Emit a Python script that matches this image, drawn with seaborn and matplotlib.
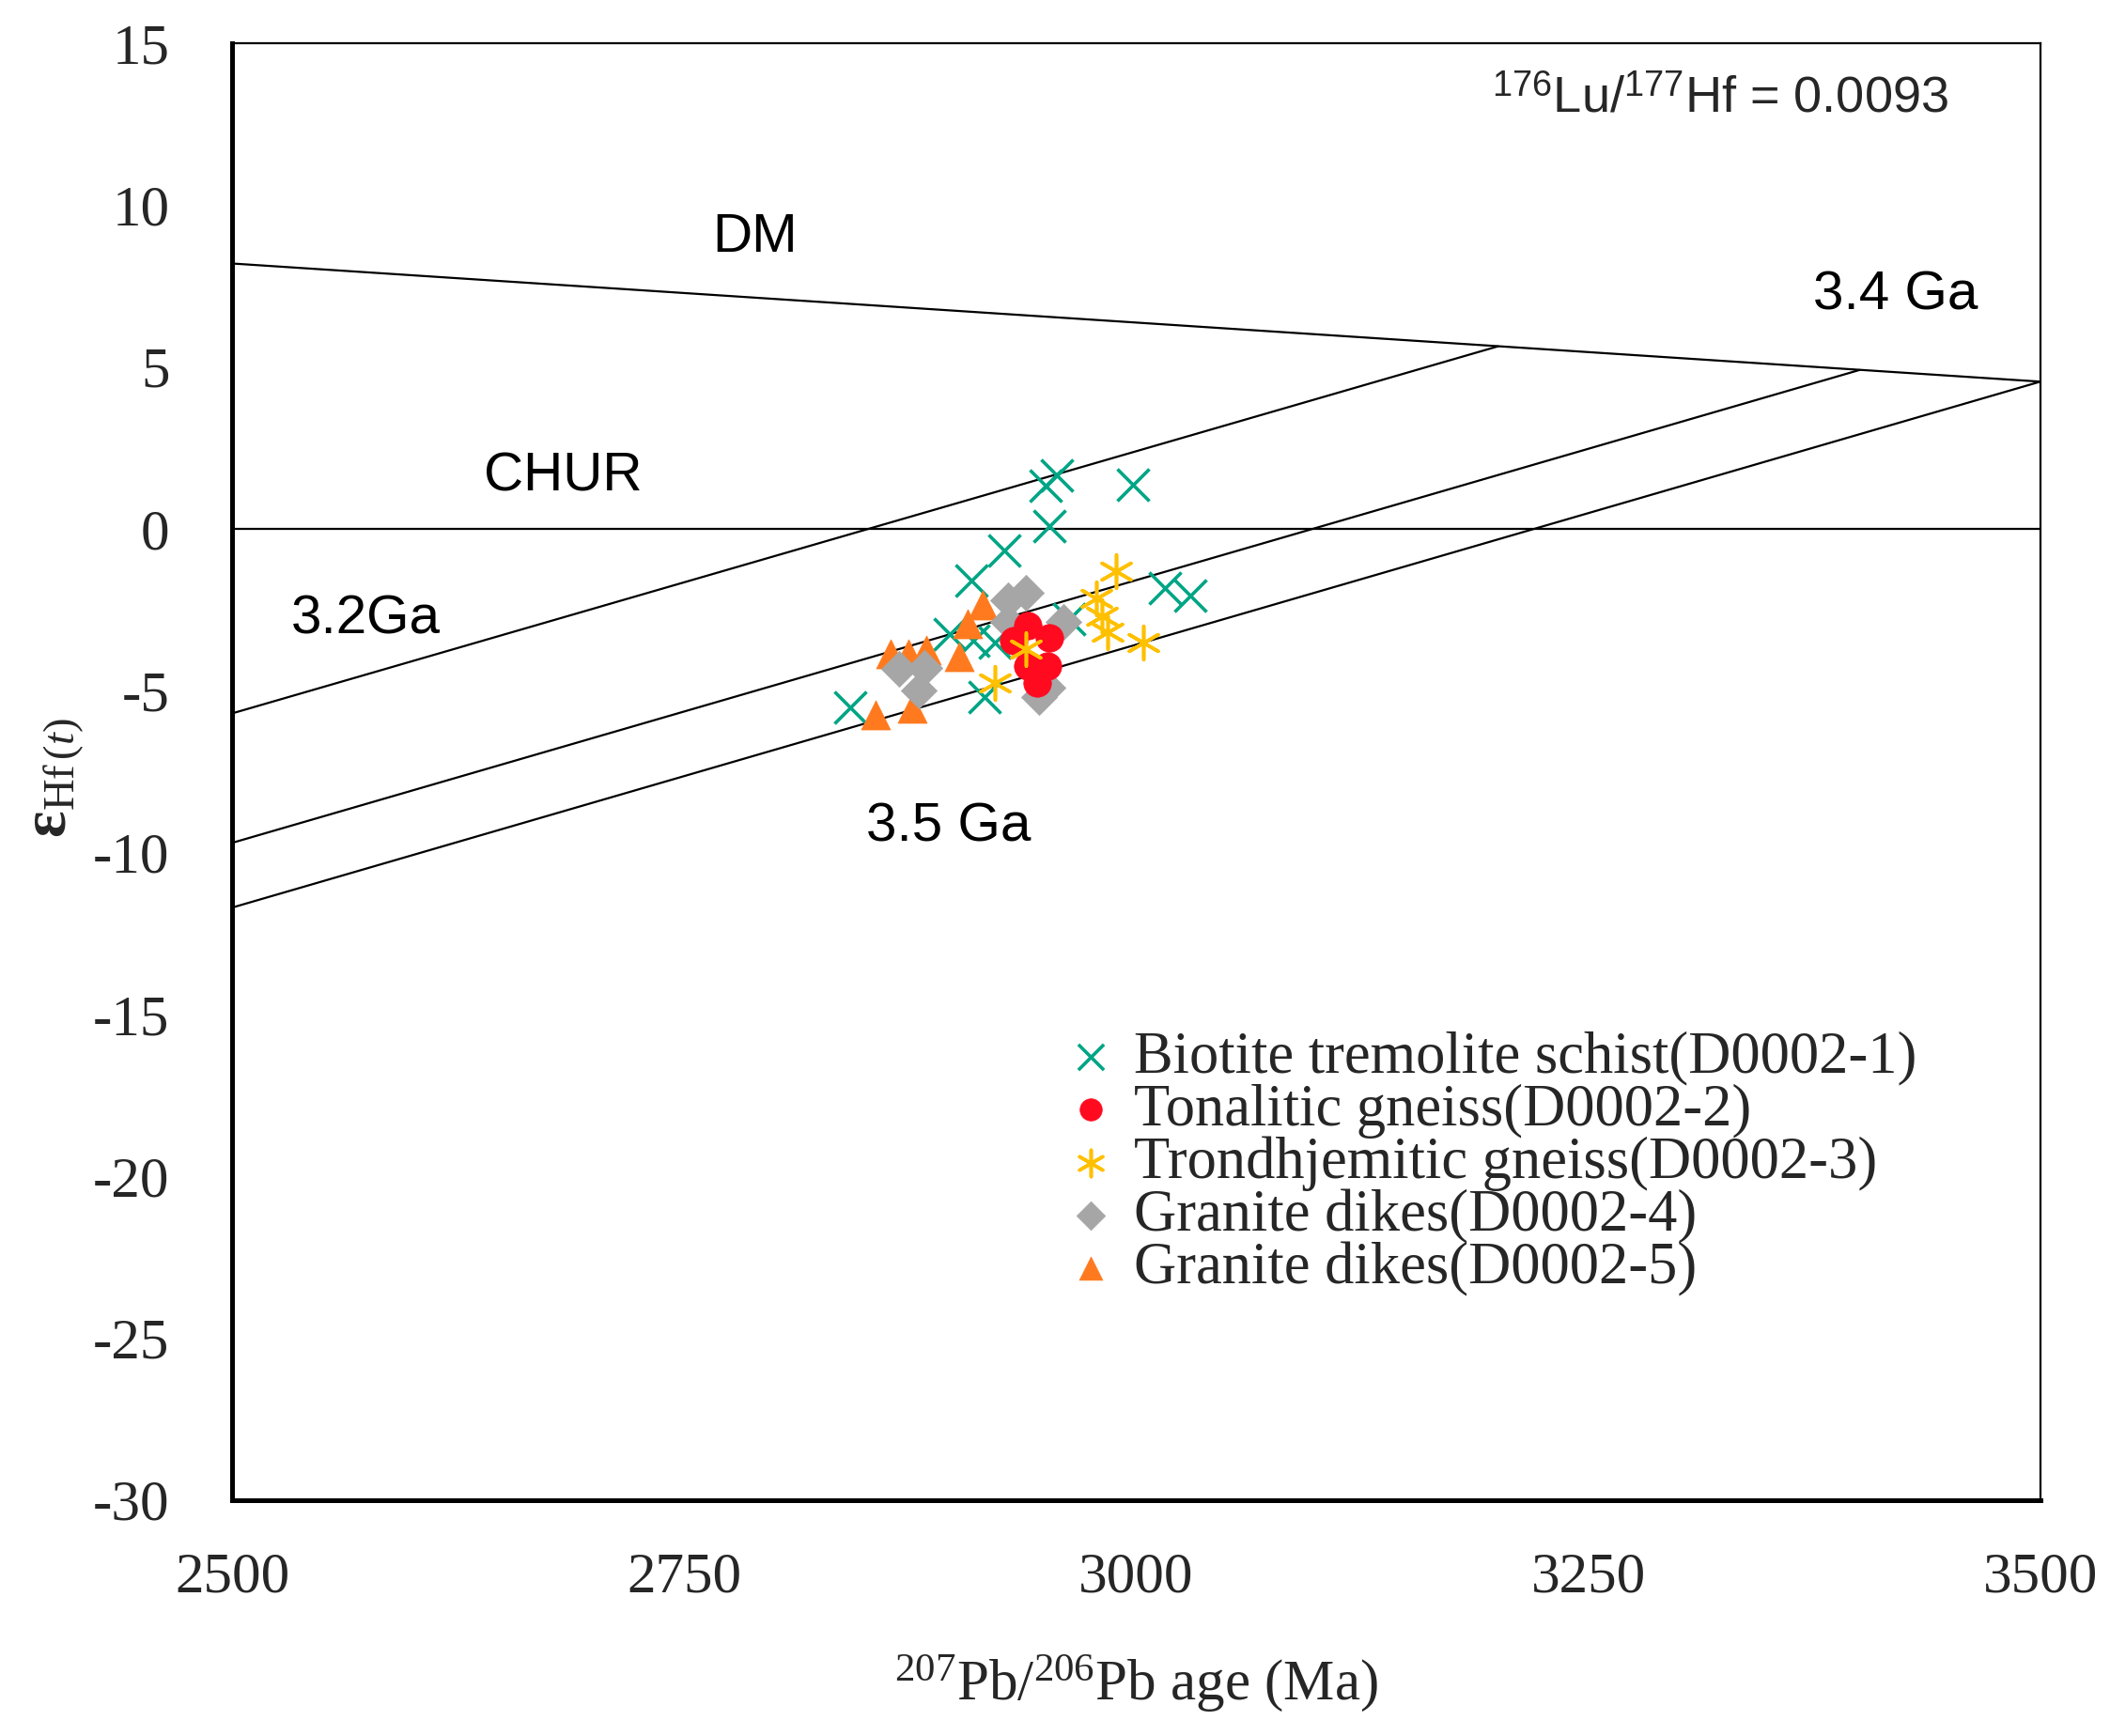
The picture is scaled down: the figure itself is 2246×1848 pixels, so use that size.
import matplotlib
matplotlib.use("Agg")
import matplotlib.pyplot as plt
import seaborn as sns
import pandas as pd

# --- data ---
biotite_age = [2950, 2956, 2998, 2952, 2927, 2909, 3016, 3030, 2842, 2916, 2897, 2910, 2963, 2922]
biotite_eps = [1.33, 1.66, 1.37, 0.09, -0.66, -1.6, -1.82, -2.06, -5.5, -5.2, -3.25, -3.45, -2.8, -3.5]

tonalitic_age = [2940, 2932, 2952, 2940, 2951, 2945]
tonalitic_eps = [-2.98, -3.46, -3.37, -4.24, -4.24, -4.77]

trondh_age = [2989, 2978, 2981, 2984, 3004, 2939, 2922]
trondh_eps = [-1.3, -2.16, -2.7, -3.2, -3.5, -3.7, -4.77]

granite4_age = [2929, 2939, 2929, 2960, 2951, 2946, 2869, 2883, 2880]
granite4_eps = [-2.2, -1.96, -2.88, -2.88, -4.9, -5.2, -4.33, -4.29, -5.0]

granite5_age = [2915, 2907, 2864, 2874, 2884, 2902, 2856, 2876]
granite5_eps = [-2.35, -2.93, -3.85, -3.85, -3.75, -3.95, -5.74, -5.54]

# reference lines (age, epsilon end points)
dm_age, dm_eps = [2500, 3500], [8.2, 4.55]
chur_age, chur_eps = [2500, 3500], [0, 0]
ga32_age, ga32_eps = [2500, 3200], [-5.7, 5.64]
ga34_age, ga34_eps = [2500, 3400], [-9.7, 4.91]
ga35_age, ga35_eps = [2500, 3500], [-11.7, 4.55]

x_ticks = [2500, 2750, 3000, 3250, 3500]
y_ticks = [15, 10, 5, 0, -5, -10, -15, -20, -25, -30]

sns.set_style("white")
plt.rcParams["font.family"] = ["Liberation Serif", "DejaVu Serif"]
plt.rcParams["axes.unicode_minus"] = False
plt.rcParams["mathtext.fontset"] = "custom"
plt.rcParams["mathtext.rm"] = "Liberation Serif"
plt.rcParams["mathtext.it"] = "Liberation Serif:italic"
plt.rcParams["mathtext.bf"] = "Liberation Serif:bold"
plt.rcParams["mathtext.sf"] = "Liberation Sans"

fig = plt.figure(figsize=(22.46, 18.48), dpi=100)
ax = fig.add_axes([0.110, 0.136, 0.857, 0.839])

for xs, ys in [(dm_age, dm_eps), (chur_age, chur_eps), (ga32_age, ga32_eps),
               (ga34_age, ga34_eps), (ga35_age, ga35_eps)]:
    ax.plot(xs, ys, color="black", lw=1.6, zorder=2)

groups = [
    ("Biotite tremolite schist(D0002-1)", biotite_age, biotite_eps, "x", "#00a585", 600, 2.6, 3),
    ("Tonalitic gneiss(D0002-2)", tonalitic_age, tonalitic_eps, "o", "#ff0a1e", 450, 0, 6),
    ("Trondhjemitic gneiss(D0002-3)", trondh_age, trondh_eps, (6, 2, 0), "#ffc000", 650, 2.6, 7),
    ("Granite dikes(D0002-4)", granite4_age, granite4_eps, "D", "#a6a6a6", 380, 0, 5),
    ("Granite dikes(D0002-5)", granite5_age, granite5_eps, "^", "#ff7a1e", 500, 0, 4),
]
for label, xs, ys, mk, col, size, lw, z in groups:
    df = pd.DataFrame({"age": xs, "eps": ys})
    if lw > 0:
        sns.scatterplot(data=df, x="age", y="eps", marker=mk, color=col, s=size,
                        linewidth=lw, ax=ax, label=label, zorder=z)
    else:
        sns.scatterplot(data=df, x="age", y="eps", marker=mk, color=col, s=size,
                        edgecolor=col, linewidth=0.5, ax=ax, label=label, zorder=z)

ax.set_xlim(2500, 3500)
ax.set_ylim(-30, 15)
ax.set_xticks(x_ticks)
ax.set_yticks(y_ticks)
ax.tick_params(axis="x", direction="in", length=12, width=1.8, pad=40, labelsize=44)
ax.tick_params(axis="y", direction="in", length=11, width=1.8, pad=48, labelsize=44)
for side in ["left", "bottom"]:
    ax.spines[side].set_linewidth(3.6)
for side in ["top", "right"]:
    ax.spines[side].set_linewidth(1.6)
for s in ax.spines.values():
    s.set_color("black")

ax.set_xlabel(r"$^{207}$Pb/$^{206}$Pb age (Ma)", fontsize=44, labelpad=38)
ax.set_ylabel("")
fig.text(0.027, 0.552, r"$\mathbf{ε}_{\mathrm{Hf}\,(\mathit{t})}$", rotation=90,
         fontsize=48, ha="center", va="center")

sans = dict(family="Liberation Sans", fontsize=42, color="black")
ax.text(2789, 9.0, "DM", ha="center", va="center", **sans)
ax.text(2683, 1.6, "CHUR", ha="center", va="center", **sans)
ax.text(3420, 7.2, "3.4 Ga", ha="center", va="center", **sans)
ax.text(2574, -2.8, "3.2Ga", ha="center", va="center", **sans)
ax.text(2896, -9.2, "3.5 Ga", ha="center", va="center", **sans)
ax.text(3323, 13.3, r"$^{\mathsf{176}}$Lu/$^{\mathsf{177}}$Hf = 0.0093", ha="center",
        va="center", family="Liberation Sans", fontsize=39)

ax.legend(loc="upper left", bbox_to_anchor=(0.46, 0.322), frameon=False,
          fontsize=45, labelspacing=-0.03, handletextpad=0.3, handlelength=0.9,
          borderpad=0, borderaxespad=0, markerscale=0.8)

fig.savefig("out.png", dpi=100, facecolor="white")
